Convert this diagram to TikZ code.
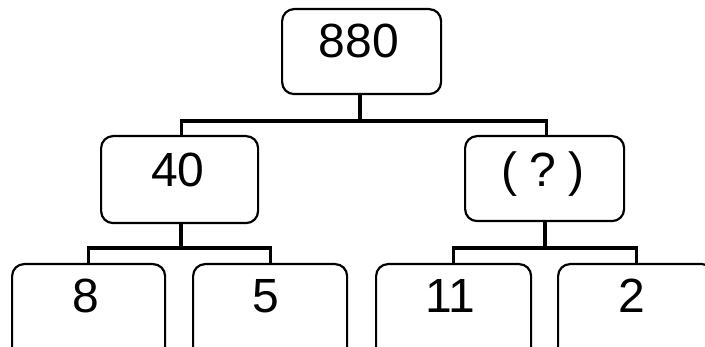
\documentclass[tikz,border=0pt]{standalone}
\usepackage{fontspec}
\setmainfont{Liberation Sans}
\begin{document}
\begin{tikzpicture}[x=1pt,y=-1pt,
  box/.style={draw=black,line width=2.2pt,rounded corners=12pt,minimum width=#1,inner sep=0pt,anchor=north west},
  num/.style={font=\fontsize{48}{50}\selectfont,anchor=base,inner sep=0pt},
  conn/.style={draw=black,line width=4pt},
  bar/.style={draw=black,line width=3.2pt}]
\useasboundingbox (0,0) rectangle (705,347);
\clip (0,0) rectangle (705,347);
\fill[white] (0,0) rectangle (705,347);
% boxes
\node[box=159pt,minimum height=85pt] (top) at (281,8) {};
\node[box=157pt,minimum height=87pt] (m40) at (100,135) {};
\node[box=159pt,minimum height=85pt] (mq) at (464,135) {};
\node[box=153pt,minimum height=110pt] (b8) at (11,263) {};
\node[box=154pt,minimum height=110pt] (b5) at (192,263) {};
\node[box=155pt,minimum height=110pt] (b11) at (375,263) {};
\node[box=156pt,minimum height=110pt] (b2) at (557,263) {};
% texts
\node[num] (t880) at (359,58) {880};
\node[num] (t40) at (178,187) {40};
\node[num] (tq) at (543,187) {(\hspace{12pt}?\hspace{12pt})};
\node[num] (t8) at (86,313) {8};
\node[num] (t5) at (266,313) {5};
\node[num] (t11) at (450,313) {11};
\node[num] (t2) at (632,313) {2};
% connectors
\coordinate (j1) at (360,121);
\coordinate (j2) at (181,248);
\coordinate (j3) at (545,248);
\draw[conn] (top.south -| j1) -- (j1);
\draw[bar] (j1) -| ([xshift=1.5pt]m40.north);
\draw[bar] (j1) -| ([xshift=2pt]mq.north);
\draw[conn] (m40.south -| j2) -- (j2);
\draw[bar] (j2) -| (b8.north);
\draw[bar] (j2) -| (b5.north);
\draw[conn] (mq.south -| j3) -- (j3);
\draw[bar] (j3) -| (b11.north);
\draw[bar] (j3) -| (b2.north);
\end{tikzpicture}
\end{document}
